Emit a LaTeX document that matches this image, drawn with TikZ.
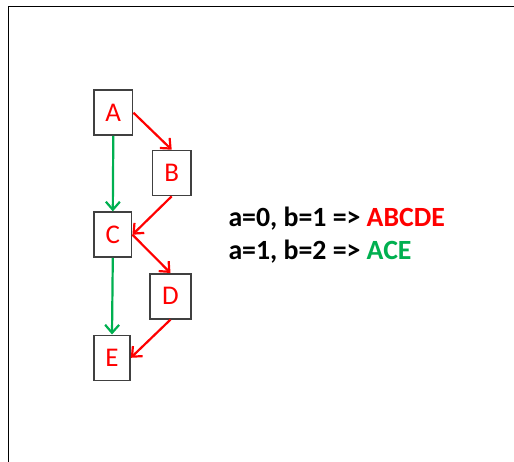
\documentclass[tikz,border=0pt]{standalone}
\usepackage{fontspec}
\setmainfont{Carlito}
\usetikzlibrary{arrows.meta}
\definecolor{nodered}{RGB}{255,0,0}
\definecolor{pathgreen}{RGB}{0,176,80}
\definecolor{frame}{RGB}{64,64,64}
\tikzset{
  x=1pt, y=-1pt,
  vertex/.style={draw=frame, line width=1.6pt, rectangle, inner sep=0pt,
    minimum height=45pt, text=nodered,
    font=\fontsize{27}{31}\selectfont},
  redarrow/.style={draw=nodered, line width=2.2pt,
    -{Straight Barb[length=8pt,width=14pt,line width=2.2pt]}},
  greenarrow/.style={draw=pathgreen, line width=2.2pt,
    -{Straight Barb[length=8pt,width=14pt,line width=2.2pt]}},
  rule/.style={font=\bfseries\fontsize{27.8}{32}\selectfont, anchor=base west, inner sep=0pt}
}
\begin{document}
\begin{tikzpicture}
\useasboundingbox (0,0) rectangle (514,462);
\fill[white] (0,0) rectangle (514,462);
% outer frame: left and top edges
\coordinate (fbl) at (8.3,462);
\coordinate (ftl) at (8.3,6.3);
\coordinate (ftr) at (514,6.3);
\draw[line width=1.2pt, black] (fbl) -- (ftl) -- (ftr);

% graph nodes
\node[vertex, minimum width=38.7pt] (A) at (113.3,112.7) {A};
\node[vertex, minimum width=38.7pt] (B) at (171.7,173) {B};
\node[vertex, minimum width=37.7pt] (C) at (112.8,234.7) {C};
\node[vertex, minimum width=41pt]   (D) at (170.5,296.3) {D};
\node[vertex, minimum width=36pt]   (E) at (112,357.8) {E};

% full path through all nodes
\draw[redarrow] (A.east) -- (B.north);
\draw[redarrow] (B.south) -- (C.east);
\draw[redarrow] (C.east) -- (D.north);
\draw[redarrow] (D.south) -- (E.east);
% shortcut path
\draw[greenarrow] (A.south) -- (C.north);
\draw[greenarrow] (C.south) -- (E.north);

% legend
\node[rule] (r1) at (228.3,226.7) {a=0, b=1 => \textcolor{nodered}{ABCDE}};
\node[rule] (r2) at (228.3,260) {a=1, b=2 => \textcolor{pathgreen}{ACE}};
\end{tikzpicture}
\end{document}
